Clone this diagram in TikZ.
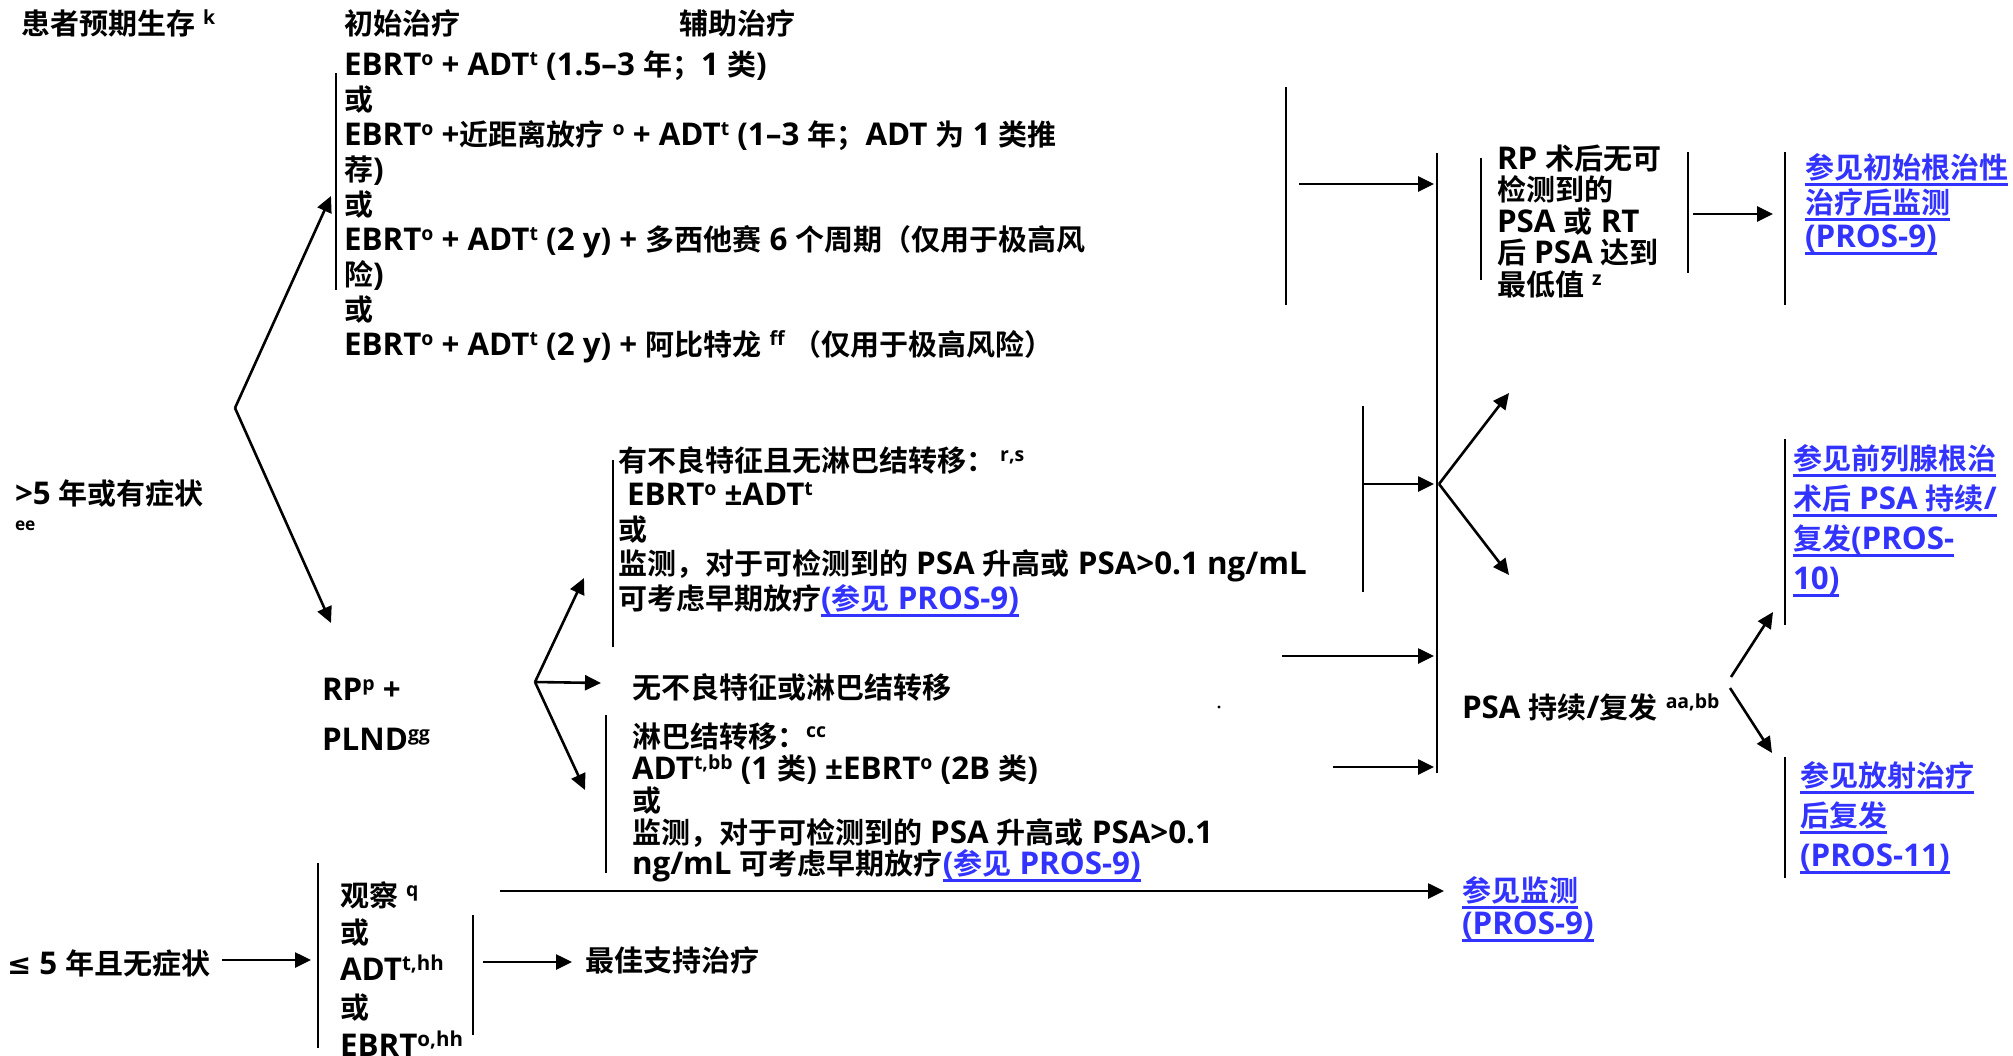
\documentclass[tikz,border=0pt]{standalone}
\usepackage{fontspec}
\setmainfont{Open Sans}[Scale=1.08]
\newfontfamily\latinfont{Open Sans}[Scale=1.08]
\newfontfamily\cjkfont{Noto Sans CJK SC}[BoldFont={Noto Sans CJK SC Bold}]
\newfontfamily\symfont{DejaVu Sans}
\usetikzlibrary{arrows.meta}
\definecolor{linkblue}{RGB}{51,51,255}
% --- switch to the CJK font for CJK characters ---
\XeTeXinterchartokenstate=1
\newXeTeXintercharclass\cjkclass
\newcount\cjkcnt
\def\setcjkrange#1#2{\cjkcnt=#1\relax\loop\XeTeXcharclass\cjkcnt=\cjkclass\relax\ifnum\cjkcnt<#2\relax\advance\cjkcnt by 1\relax\repeat}
\setcjkrange{"4E00}{"9FFF}
\setcjkrange{"3000}{"303F}
\setcjkrange{"FF00}{"FFEF}
\XeTeXinterchartoks 0 \cjkclass = {\cjkfont}
\XeTeXinterchartoks 4095 \cjkclass = {\cjkfont}
\XeTeXinterchartoks \cjkclass 0 = {\latinfont}
\XeTeXinterchartoks \cjkclass 4095 = {\latinfont}
% --- helpers ---
\newcommand\sps[1]{\raisebox{10pt}{\fontsize{18}{18}\selectfont #1}}
\newcommand\spb[1]{\raisebox{10pt}{\fontsize{19}{19}\selectfont #1}}
\newsavebox\lnkbox
\newcommand\linkul[1]{\sbox\lnkbox{#1}\rlap{\rule[-7.5pt]{\wd\lnkbox}{2.8pt}}\usebox\lnkbox}
\newcommand\lnk[1]{{\color{linkblue}\linkul{#1}}}
\tikzset{
  txt/.style={anchor=base west, inner sep=0pt, outer sep=0pt, font=\fontsize{29}{35}\selectfont\bfseries},
  smalltxt/.style={anchor=base west, inner sep=0pt, outer sep=0pt, font=\fontsize{16}{16}\selectfont\bfseries},
  lnktxt/.style={txt, text=linkblue},
  bar/.style={line width=2.6pt},
  arr/.style={line width=2.6pt, -{Triangle[length=16pt,width=15pt]}},
}
\begin{document}
\begin{tikzpicture}[x=1pt,y=-1pt]
\useasboundingbox (0,0) rectangle (2013,1055);
% ---------------- header ----------------
\node[txt] (surv) at (21,34) {患者预期生存 \sps{k}};
\node[txt] (hinit) at (344,34) {初始治疗};
\node[txt] (hadj) at (679,34) {辅助治疗};
% ---------------- list A ----------------
\node[txt] (a1) at (344,75) {EBRT\sps{o} + ADT\sps{t} (1.5–3 年；1 类)};
\node[txt] (a2) at (344,110) {或};
\node[txt] (a3) at (344,145) {EBRT\sps{o} +近距离放疗 \sps{o} + ADT\sps{t} (1–3 年；ADT 为 1 类推};
\node[txt] (a4) at (344,180) {荐)};
\node[txt] (a5) at (344,215) {或};
\node[txt] (a6) at (344,250) {EBRT\sps{o} + ADT\sps{t} (2 y) + 多西他赛 6 个周期（仅用于极高风};
\node[txt] (a7) at (344,285) {险)};
\node[txt] (a8) at (344,320) {或};
\node[txt] (a9) at (344,355) {EBRT\sps{o} + ADT\sps{t} (2 y) + 阿比特龙 \sps{ff} （仅用于极高风险）};
\draw[bar] (336,73) -- (336,290);
% ---------------- >5 years ----------------
\node[txt] (gt5) at (15,504) {>5 年或有症状};
\node[smalltxt] (gt5ee) at (15,530) {ee};
\coordinate (forkA) at (235,408);
\coordinate (tipA1) at (331,196);
\coordinate (tipA2) at (331,623);
\draw[arr] (forkA) -- (tipA1);
\draw[arr] (forkA) -- (tipA2);
% ---------------- RP + PLND ----------------
\node[txt] (rp1) at (322,700) {RP\sps{p} +};
\node[txt] (rp2) at (322,750) {PLND\sps{gg}};
\coordinate (forkB) at (535,682);
\coordinate (tipB1) at (584,578);
\coordinate (tipB2) at (601,683);
\coordinate (tipB3) at (585,790);
\draw[arr] (forkB) -- (tipB1);
\draw[arr] (forkB) -- (tipB2);
\draw[arr] (forkB) -- (tipB3);
% adverse features
\draw[bar] (613,460) -- (613,647);
\node[txt] (b1) at (618,471) {有不良特征且无淋巴结转移：\,\sps{r,s}};
\node[txt] (b2) at (627,505) {EBRT\sps{o} ±ADT\sps{t}};
\node[txt] (b3) at (618,540) {或};
\node[txt] (b4) at (618,574) {监测，对于可检测到的 PSA 升高或 PSA>0.1 ng/mL};
\node[txt] (b5) at (618,609) {可考虑早期放疗\lnk{(参见 PROS-9)}};
% no adverse features
\node[txt] (nb) at (632,698) {无不良特征或淋巴结转移};
% lymph node metastases
\draw[bar] (606,715) -- (606,873);
\node[txt] (c1) at (632,747) {淋巴结转移：\sps{cc}};
\node[txt] (c2) at (632,779) {ADT\sps{t,bb} (1 类) ±EBRT\sps{o} (2B 类)};
\node[txt] (c3) at (632,811) {或};
\node[txt] (c4) at (632,843) {监测，对于可检测到的 PSA 升高或 PSA>0.1};
\node[txt] (c5) at (632,874) {ng/mL 可考虑早期放疗\lnk{(参见 PROS-9)}};
% ---------------- <=5 years ----------------
\node[txt] (le5) at (7,974) {{\symfont ≤} 5 年且无症状};
\coordinate (le5a) at (222,960);
\coordinate (le5b) at (311,960);
\draw[arr] (le5a) -- (le5b);
\draw[bar] (318,863) -- (318,1048);
\node[txt] (d1) at (340,906) {观察 \sps{q}};
\node[txt] (d2) at (340,943) {或};
\node[txt] (d3) at (340,980) {ADT\spb{t,hh}};
\node[txt] (d4) at (340,1018) {或};
\node[txt] (d5) at (340,1056) {EBRT\spb{o,hh}};
\draw[bar] (473,915) -- (473,1035);
\node[txt] (bsc) at (585,971) {最佳支持治疗};
\coordinate (bsca) at (483,962);
\coordinate (bscb) at (572,962);
\draw[arr] (bsca) -- (bscb);
% observation -> monitoring
\coordinate (mona) at (500,891);
\node[lnktxt] (mon1) at (1462,901) {\linkul{参见监测}};
\node[lnktxt] (mon2) at (1462,934) {\linkul{(PROS-9)}};
\coordinate (monb) at (1444,891);
\draw[arr] (mona) -- (monb);
% ---------------- right side ----------------
\draw[bar] (1286,87) -- (1286,305);
\coordinate (fa) at (1299,184);
\coordinate (fb) at (1434,184);
\draw[arr] (fa) -- (fb);
\draw[bar] (1437,153) -- (1437,773);
\draw[bar] (1363,406) -- (1363,592);
\coordinate (ha) at (1364,484);
\coordinate (hb) at (1434,484);
\draw[arr] (ha) -- (hb);
\coordinate (vx) at (1439,484);
\coordinate (vxu) at (1509,393);
\coordinate (vxd) at (1509,575);
\draw[arr] (vx) -- (vxu);
\draw[arr] (vx) -- (vxd);
\coordinate (nba) at (1282,656);
\coordinate (nbb) at (1434,656);
\draw[arr] (nba) -- (nbb);
\coordinate (lna) at (1333,767);
\coordinate (lnb) at (1434,767);
\draw[arr] (lna) -- (lnb);
\coordinate (dot) at (1219,707);
\fill (dot) circle (1.6);
% undetectable PSA
\draw[bar] (1481,158) -- (1481,280);
\node[txt] (r1) at (1497,169) {RP 术后无可};
\node[txt] (r2) at (1497,200.5) {检测到的};
\node[txt] (r3) at (1497,232) {PSA 或 RT};
\node[txt] (r4) at (1497,263.5) {后 PSA 达到};
\node[txt] (r5) at (1497,295) {最低值 \sps{z}};
\draw[bar] (1688,152) -- (1688,273);
\coordinate (ra) at (1693,214);
\coordinate (rb) at (1773,214);
\draw[arr] (ra) -- (rb);
\draw[bar] (1785,152) -- (1785,305);
\node[lnktxt] (l11) at (1805,178) {\linkul{参见初始根治性}};
\node[lnktxt] (l12) at (1805,213) {\linkul{治疗后监测}};
\node[lnktxt] (l13) at (1805,247) {\linkul{(PROS-9)}};
% PSA persistence / recurrence
\node[txt] (psa) at (1462,718) {PSA 持续/复发 \sps{aa,bb}};
\coordinate (pa) at (1731,677);
\coordinate (pb) at (1773,612);
\coordinate (pc) at (1730,688);
\coordinate (pd) at (1772,753);
\draw[arr] (pa) -- (pb);
\draw[arr] (pc) -- (pd);
\draw[bar] (1785,439) -- (1785,625);
\node[lnktxt] (l21) at (1793,469) {\linkul{参见前列腺根治}};
\node[lnktxt] (l22) at (1793,509) {\linkul{术后 PSA 持续/}};
\node[lnktxt] (l23) at (1793,549) {\linkul{复发(PROS-}};
\node[lnktxt] (l24) at (1793,589) {\linkul{10)}};
\draw[bar] (1785,757) -- (1785,878);
\node[lnktxt] (l31) at (1800,786) {\linkul{参见放射治疗}};
\node[lnktxt] (l32) at (1800,826) {\linkul{后复发}};
\node[lnktxt] (l33) at (1800,866) {\linkul{(PROS-11)}};
\end{tikzpicture}
\end{document}
